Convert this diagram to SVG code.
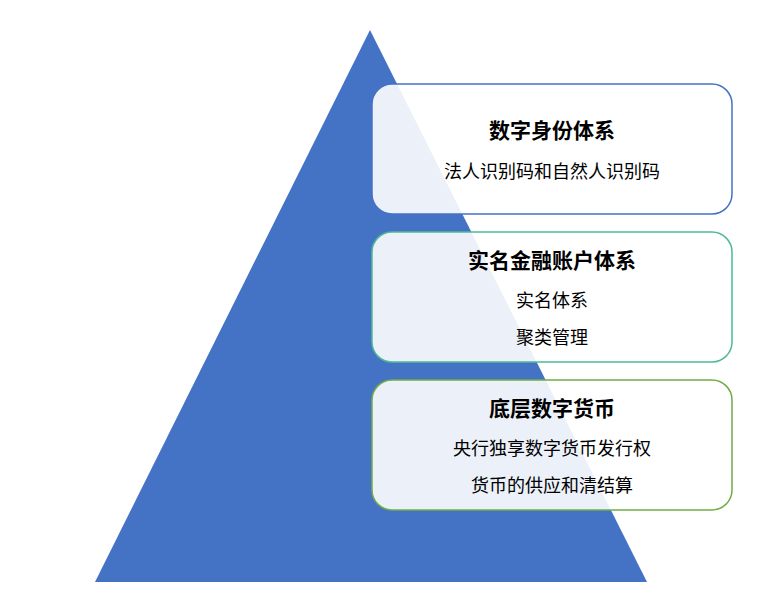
<svg xmlns="http://www.w3.org/2000/svg" width="771" height="600" viewBox="0 0 771 600">
<style>
.box{fill:#ffffff;fill-opacity:0.9;stroke-width:1.5}
.t{font-family:"Liberation Sans","Noto Sans CJK SC",sans-serif;font-size:21px;font-weight:bold;text-anchor:middle;fill:#000}
.s{font-family:"Liberation Sans","Noto Sans CJK SC",sans-serif;font-size:18px;text-anchor:middle;fill:#000}
</style>
<rect width="771" height="600" fill="#fff"/>
<polygon id="pyramid" points="370,30 95,582 647,582" fill="#4472c4"/>
<g id="connectors"></g>
<g id="node1">
<rect class="box" x="372" y="84" width="360" height="130" rx="20" stroke="#4472c4"/>
<text class="t" x="552" y="138">数字身份体系</text>
<text class="s" x="552" y="178">法人识别码和自然人识别码</text>
</g>
<g id="node2">
<rect class="box" x="372" y="232" width="360" height="130" rx="20" stroke="#4dbb96"/>
<text class="t" x="552" y="268">实名金融账户体系</text>
<text class="s" x="552" y="307">实名体系</text>
<text class="s" x="552" y="344">聚类管理</text>
</g>
<g id="node3">
<rect class="box" x="372" y="380" width="360" height="130" rx="20" stroke="#70ad47"/>
<text class="t" x="552" y="416">底层数字货币</text>
<text class="s" x="552" y="455">央行独享数字货币发行权</text>
<text class="s" x="552" y="492">货币的供应和清结算</text>
</g>
</svg>
